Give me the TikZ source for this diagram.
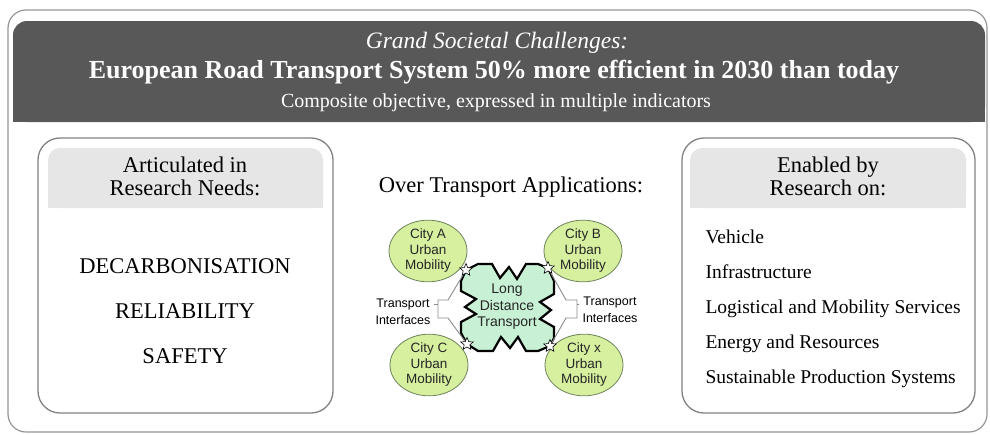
\documentclass[tikz,border=0pt]{standalone}
\usepackage{fontspec}
\setmainfont{Liberation Serif}
\newfontfamily\sansf{Liberation Sans}
\usetikzlibrary{shapes.geometric}
\definecolor{hdrgray}{RGB}{88,88,88}
\definecolor{bandgray}{RGB}{230,230,230}
\definecolor{framegray}{RGB}{150,150,150}
\definecolor{boxgray}{RGB}{130,130,130}
\definecolor{cityfill}{RGB}{214,240,160}
\definecolor{cityline}{RGB}{110,130,90}
\definecolor{ldtfill}{RGB}{200,240,212}
\definecolor{linkgray}{RGB}{140,140,140}
\tikzset{
  fs/.style={font=\fontsize{#1}{#1}\selectfont},
  panel/.style={draw=boxgray, line width=1.3pt, rounded corners=22pt, fill=white},
  band/.style={fill=bandgray, rounded corners=12pt},
  city/.style={ellipse, draw=cityline, line width=0.8pt, fill=cityfill,
    minimum width=78pt, minimum height=54pt, inner sep=0pt, align=center,
    font=\sansf\fontsize{13.5}{15.5}\selectfont, text=black!85},
  portstar/.style={star, star points=5, star point ratio=2.2, draw=black,
    line width=0.6pt, fill=white, minimum size=13pt, inner sep=0pt},
  iface/.style={align=center, font=\sansf\fontsize{12.5}{17}\selectfont},
  ilink/.style={draw=linkgray, line width=0.9pt},
}
\begin{document}
\begin{tikzpicture}[x=1pt, y=-1pt]
\useasboundingbox (0,0) rectangle (990,434);
\fill[white] (0,0) rectangle (990,434);

% outer frame
\draw[framegray, line width=1.2pt, rounded corners=18pt] (8,10) rectangle (987,432);

% dark title banner
\fill[hdrgray, rounded corners=14pt] (13,21) rectangle (985,122);
\fill[hdrgray] (13,60) rectangle (985,122);
\node[text=white, fs=23.5, anchor=base] (gsc) at (497,48) {\itshape Grand Societal Challenges:};
\node[text=white, fs=26, anchor=base] (title) at (494,78)
  {\bfseries European Road Transport System 50\% more efficient in 2030 than today};
\node[text=white, fs=20, anchor=base] (sub) at (496,107)
  {Composite objective, expressed in multiple indicators};

% left panel
\draw[panel] (38,138) rectangle (333,413);
\fill[band] (48,148) rectangle (323,208);
\fill[bandgray] (48,170) rectangle (323,208);
\node[fs=22.5, anchor=base] (lh1) at (185,172) {Articulated in};
\node[fs=22.5, anchor=base] (lh2) at (185,195) {Research Needs:};
\node[fs=22.5, anchor=base] (decarb) at (185,273) {DECARBONISATION};
\node[fs=22.5, anchor=base] (relia) at (185,318) {RELIABILITY};
\node[fs=22.5, anchor=base] (safety) at (185,363) {SAFETY};

% right panel
\draw[panel] (682,138) rectangle (975,413);
\fill[band] (690,148) rectangle (966,208);
\fill[bandgray] (690,170) rectangle (966,208);
\node[fs=22.5, anchor=base] (rh1) at (828,172) {Enabled by};
\node[fs=22.5, anchor=base] (rh2) at (828,195) {Research on:};
\node[fs=19.5, anchor=base west] (veh) at (702,243) {Vehicle};
\node[fs=19.5, anchor=base west] (infra) at (702,278) {Infrastructure};
\node[fs=19.5, anchor=base west] (logi) at (702,313) {Logistical and Mobility Services};
\node[fs=19.5, anchor=base west] (energy) at (702,348) {Energy and Resources};
\node[fs=19.5, anchor=base west] (prod) at (702,383) {Sustainable Production Systems};

% centre: transport applications
\node[fs=22.5, anchor=base] (apps) at (511,192) {Over Transport Applications:};

\node[city] (cA) at (428,251) {City A\\Urban\\Mobility};
\node[city] (cB) at (583,251) {City B\\Urban\\Mobility};
\node[city] (cC) at (429,365) {City C\\Urban\\Mobility};
\node[city] (cX) at (584,365) {City x\\Urban\\Mobility};

% long distance transport area with jagged borders
\def\ldtpath{(466,270) -- (478,264) -- (492,264) -- (500,278) -- (509,267) -- (517,279) -- (526,264) -- (538,264) -- (548,268)
  -- (554,281) -- (554,294) -- (540,302) -- (551,310) -- (540,319) -- (554,327) -- (554,338) -- (550,346)
  -- (538,351) -- (526,351) -- (518,337) -- (510,348) -- (501,337) -- (493,351) -- (478,351) -- (467,344)
  -- (461,333) -- (461,322) -- (476,314) -- (465,307) -- (476,299) -- (461,291) -- (461,281) -- cycle}
\fill[ldtfill] \ldtpath;
\draw[black, line width=2.2pt, line join=miter] \ldtpath;
\node[align=center, font=\sansf\fontsize{14}{16.5}\selectfont, text=black!85] (ldt) at (507,307)
  {Long\\Distance\\Transport};

% interface stars
\node[portstar] (sA) at (466,270) {};
\node[portstar] (sB) at (548,268) {};
\node[portstar] (sC) at (467,344) {};
\node[portstar] (sX) at (550,346) {};

% transport interface labels and brackets
\node[iface] (ifL) at (403,312) {Transport\\Interfaces};
\node[iface] (ifR) at (610,310) {Transport\\Interfaces};

\coordinate (lbt) at (438,300);
\coordinate (lbb) at (438,318);
\coordinate (lkt) at (448,300);
\coordinate (lkb) at (448,318);
\draw[ilink] (sA) -- (lkt) -- (lbt) -- (lbb) -- (lkb) -- (sC);
\draw[ilink] (ifL.east |- 0,304) -- (lbt |- 0,304);

\coordinate (rbt) at (577,300);
\coordinate (rbb) at (577,318);
\coordinate (rkt) at (566,300);
\coordinate (rkb) at (566,318);
\draw[ilink] (sB) -- (rkt) -- (rbt) -- (rbb) -- (rkb) -- (sX);
\draw[ilink] (rbt |- 0,304) -- (ifR.west |- 0,304);
\end{tikzpicture}
\end{document}
